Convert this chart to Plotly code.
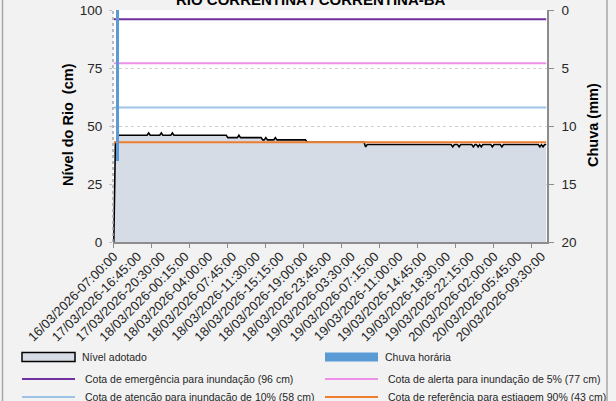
import plotly.graph_objects as go

# ---------------- data ----------------
tick_labels = [
    "16/03/2026-07:00:00", "17/03/2026-16:45:00", "17/03/2026-20:30:00",
    "18/03/2026-00:15:00", "18/03/2026-04:00:00", "18/03/2026-07:45:00",
    "18/03/2026-11:30:00", "18/03/2026-15:15:00", "18/03/2026-19:00:00",
    "18/03/2026-23:45:00", "19/03/2026-03:30:00", "19/03/2026-07:15:00",
    "19/03/2026-11:00:00", "19/03/2026-14:45:00", "19/03/2026-18:30:00",
    "19/03/2026-22:15:00", "20/03/2026-02:00:00", "20/03/2026-05:45:00",
    "20/03/2026-09:30:00",
]
label_step = 15  # one label every 15 readings (15-min samples)

nivel_cm = [
    0, 43, 43, 46, 46, 46, 46, 46, 46, 46, 46, 46, 46, 46, 46, 46, 46, 46, 46, 46,
    46, 46, 47, 46, 46, 46, 46, 46, 46, 46, 47, 46, 46, 46, 46, 46, 46, 47, 46, 46,
    46, 46, 46, 46, 46, 46, 46, 46, 46, 46, 46, 46, 46, 46, 46, 46, 46, 46, 46, 46,
    46, 46, 46, 46, 46, 46, 46, 46, 46, 46, 46, 46, 45, 45, 45, 45, 45, 45, 45, 46,
    45, 45, 45, 45, 45, 45, 45, 45, 45, 45, 45, 45, 45, 45, 44, 44, 45, 44, 44, 44,
    44, 44, 45, 44, 44, 44, 44, 44, 44, 44, 44, 44, 44, 44, 44, 44, 44, 44, 44, 44,
    44, 44, 43, 43, 43, 43, 43, 43, 43, 43, 43, 43, 43, 43, 43, 43, 43, 43, 43, 43,
    43, 43, 43, 43, 43, 43, 43, 43, 43, 43, 43, 43, 43, 43, 43, 43, 43, 43, 43, 41,
    42, 42, 42, 42, 42, 42, 42, 42, 42, 42, 42, 42, 42, 42, 42, 42, 42, 42, 42, 42,
    42, 42, 42, 42, 42, 42, 42, 42, 42, 42, 42, 42, 42, 42, 42, 42, 42, 42, 42, 42,
    42, 42, 42, 42, 42, 42, 42, 42, 42, 42, 42, 42, 42, 42, 41, 42, 42, 42, 41, 42,
    42, 42, 42, 42, 42, 42, 42, 41, 42, 42, 41, 42, 41, 42, 42, 42, 42, 42, 42, 41,
    42, 42, 42, 42, 42, 41, 42, 42, 42, 42, 42, 42, 42, 42, 42, 42, 42, 42, 42, 42,
    42, 42, 42, 42, 42, 42, 42, 42, 42, 41, 42, 41, 42, 42,
]

chuva_idx = [2, 3]
chuva_mm = [13, 13]

cota_nomes = [
    "Cota de emergência para inundação (96 cm)",
    "Cota de alerta para inundação de 5% (77 cm)",
    "Cota de atenção para inundação de 10% (58 cm)",
    "Cota de referência para estiagem 90% (43 cm)",
]
cota_cm = [96, 77, 58, 43]
cota_cores = ["#7030a0", "#ee8fe8", "#9dc3e6", "#ed7d31"]

# ---------------- layout helpers ----------------
W, H = 616, 401
PL, PR, PT, PB = 113, 547, 10, 242
FONT = "Liberation Sans"


def xp(px):
    return (px - PL) / (PR - PL)


def yp(py):
    return (PB - py) / (PB - PT)


n = len(nivel_cm)
x_idx = list(range(n))

fig = go.Figure()

fig.add_trace(go.Scatter(
    x=x_idx, y=nivel_cm, mode="lines", fill="tozeroy",
    fillcolor="#d6dce5", line=dict(color="black", width=1.6),
    name="Nível adotado", showlegend=False, hoverinfo="skip"))

for nome, val, cor in zip(cota_nomes, cota_cm, cota_cores):
    fig.add_trace(go.Scatter(
        x=[x_idx[0], x_idx[-1]], y=[val, val], mode="lines",
        line=dict(color=cor, width=2), name=nome, showlegend=False))

fig.add_trace(go.Bar(
    x=chuva_idx, y=chuva_mm, yaxis="y2", marker=dict(color="#5b9bd5", line_width=0),
    name="Chuva horária", showlegend=False))

tickvals = [i * label_step for i in range(len(tick_labels))]

fig.update_layout(
    width=W, height=H, autosize=False,
    margin=dict(l=PL, r=W - PR, t=PT, b=H - PB, pad=0),
    paper_bgcolor="#f2f2f2", plot_bgcolor="white",
    font=dict(family=FONT, color="#262626"),
    bargap=0, showlegend=False,
    xaxis=dict(
        range=[-0.5, n - 0.5], tickmode="array", tickvals=tickvals, ticktext=tick_labels,
        tickangle=-45, tickfont=dict(size=13), ticks="", showgrid=False,
        showline=True, linecolor="#8c8c8c", linewidth=1.5, zeroline=False,
        automargin=False,
        minor=dict(tick0=-0.5, dtick=24, ticks="outside", ticklen=4,
                   tickcolor="#8c8c8c", showgrid=False),
    ),
    yaxis=dict(
        range=[0, 100], tickmode="array", tickvals=[0, 25, 50, 75, 100],
        tickfont=dict(size=13.5), showgrid=True, gridcolor="#d0d0d0",
        griddash="dot", gridwidth=1, zeroline=False, showline=False,
        ticks="outside", ticklen=3, tickcolor="#bfbfbf", automargin=False,
        ticklabelstandoff=4,
    ),
    yaxis2=dict(
        range=[20, 0], overlaying="y", side="right", tickmode="array",
        tickvals=[0, 5, 10, 15, 20], tickfont=dict(size=13.5), showgrid=False,
        zeroline=False, showline=True, linecolor="#8c8c8c", linewidth=1.5,
        ticks="outside", ticklen=5, tickcolor="#8c8c8c", automargin=False,
        ticklabelstandoff=5,
    ),
)

shapes = []
# dotted left axis line
shapes.append(dict(type="line", xref="paper", yref="paper", x0=0, x1=0, y0=0, y1=1,
                   line=dict(color="#a6a6a6", width=1.5, dash="dot")))
# outer chart frame
shapes.append(dict(type="rect", xref="paper", yref="paper",
                   x0=xp(2.5), x1=xp(607), y0=yp(-2), y1=yp(403),
                   line=dict(color="#a6a6a6", width=1.5), fillcolor="rgba(0,0,0,0)"))

annotations = []
# title (cut at the top, as in the reference)
annotations.append(dict(text="<b>RIO CORRENTINA / CORRENTINA-BA</b>", xref="paper", yref="paper",
                        x=xp(311), y=yp(-1), xanchor="center", yanchor="middle",
                        showarrow=False, font=dict(size=15, color="black", family=FONT)))
annotations.append(dict(text="<b>Nível do Rio  (cm)</b>", xref="paper", yref="paper",
                        x=xp(68), y=yp(125), textangle=-90, xanchor="center", yanchor="middle",
                        showarrow=False, font=dict(size=14.5, color="black", family=FONT)))
annotations.append(dict(text="<b>Chuva (mm)</b>", xref="paper", yref="paper",
                        x=xp(593), y=yp(125), textangle=-90, xanchor="center", yanchor="middle",
                        showarrow=False, font=dict(size=14.5, color="black", family=FONT)))

# manual legend (two columns, three rows)
leg_font = dict(size=10.5, color="#262626", family=FONT)
rows_y = [357, 379, 397]
col_x = [22, 325]
icon_w = 53
entries = [
    ("box", "#d6dce5", "black", "Nível adotado"),
    ("box", "#5b9bd5", None, "Chuva horária"),
] + [("line", c, None, nm) for nm, c in zip(cota_nomes, cota_cores)]

for k, (kind, col, edge, label) in enumerate(entries):
    r, c = divmod(k, 2)
    y = rows_y[r]
    x0 = col_x[c]
    if kind == "box":
        shapes.append(dict(type="rect", xref="paper", yref="paper",
                           x0=xp(x0), x1=xp(x0 + icon_w), y0=yp(y - 4.5), y1=yp(y + 4.5),
                           fillcolor=col,
                           line=dict(color=edge if edge else col, width=1.5 if edge else 0)))
        tx = x0 + icon_w + 5
    else:
        shapes.append(dict(type="line", xref="paper", yref="paper",
                           x0=xp(x0), x1=xp(x0 + icon_w), y0=yp(y), y1=yp(y),
                           line=dict(color=col, width=2)))
        tx = x0 + icon_w + 8
    annotations.append(dict(text=label, xref="paper", yref="paper", x=xp(tx), y=yp(y),
                            xanchor="left", yanchor="middle", showarrow=False, font=leg_font))

fig.update_layout(shapes=shapes, annotations=annotations)

fig.write_html(
    "out.html",
    config={"displayModeBar": False},
    post_script="document.body.style.margin='0';document.body.style.overflow='hidden';"
                "document.body.style.background='#f2f2f2';",
)
